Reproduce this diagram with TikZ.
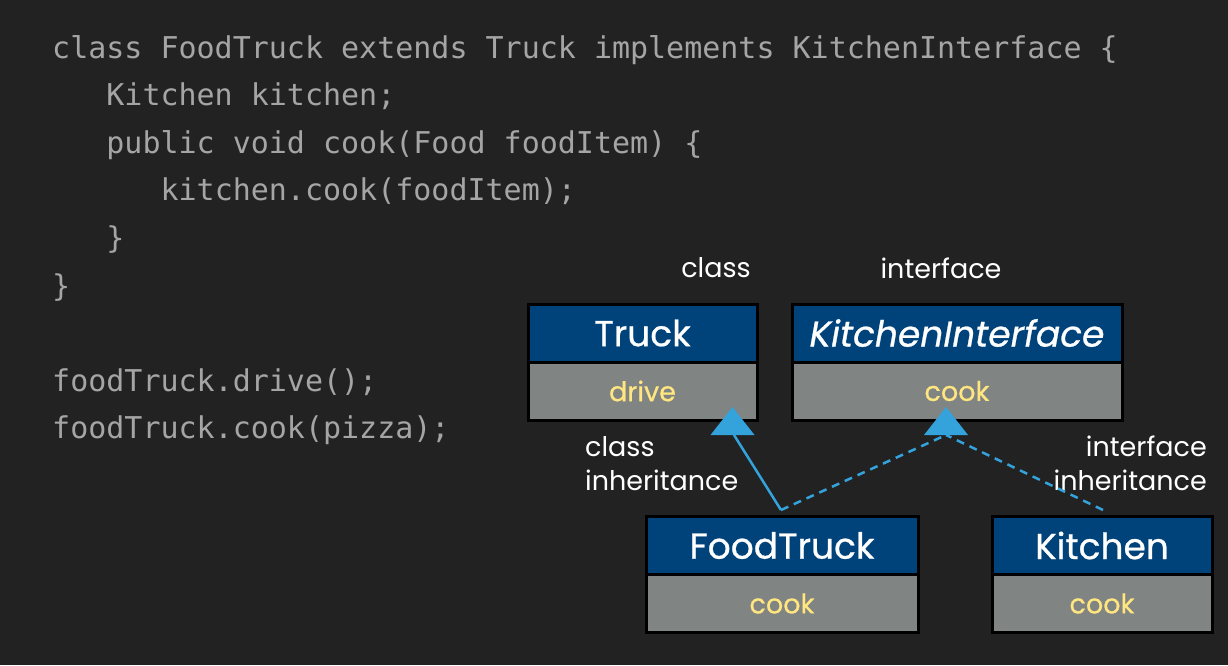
\documentclass[tikz,border=0pt]{standalone}
\usepackage{fontspec}
\setmainfont{Poppins}
\setmonofont{DejaVu Sans Mono}
\newfontfamily\boxfont{Poppins}[FakeBold=0.7]
\usetikzlibrary{positioning}
\definecolor{bgc}{RGB}{34,34,34}
\definecolor{codec}{RGB}{165,165,165}
\definecolor{hdrc}{RGB}{0,66,122}
\definecolor{bodyc}{RGB}{128,132,130}
\definecolor{yelc}{RGB}{255,230,128}
\definecolor{arrc}{RGB}{52,163,219}
\begin{document}
\begin{tikzpicture}[x=1pt,y=-1pt,
  codeline/.style={anchor=base west,inner sep=0pt,text=codec,font=\ttfamily\fontsize{30}{36}\selectfont},
  hdr/.style={draw=black,line width=3pt,fill=hdrc,text=white,inner sep=0pt,minimum height=58pt,font=\boxfont\fontsize{36}{44}\selectfont},
  bdy/.style={draw=black,line width=3pt,fill=bodyc,text=yelc,inner sep=0pt,minimum height=58pt,font=\boxfont\fontsize{27}{32}\selectfont},
  lbl/.style={text=white,inner sep=0pt,font=\fontsize{27}{34}\selectfont},
  solidlink/.style={draw=arrc,line width=2.5pt},
  dashlink/.style={draw=arrc,line width=2.5pt,dash pattern=on 8pt off 6pt},
  tri/.style={fill=arrc}
]
\fill[bgc] (0,0) rectangle (1228,665);
\useasboundingbox (0,0) rectangle (1228,665);

% code
\node[codeline] (c1) at (52,58) {class FoodTruck extends Truck implements KitchenInterface \{};
\node[codeline] (c2) at (52,105.6) {\ \ \ Kitchen kitchen;};
\node[codeline] (c3) at (52,153.2) {\ \ \ public void cook(Food foodItem) \{};
\node[codeline] (c4) at (52,200.8) {\ \ \ \ \ \ kitchen.cook(foodItem);};
\node[codeline] (c5) at (52,248.4) {\ \ \ \}};
\node[codeline] (c6) at (52,296) {\}};
\node[codeline] (c7) at (52,391.2) {foodTruck.drive();};
\node[codeline] (c8) at (52,438.8) {foodTruck.cook(pizza);};

% labels
\node[lbl] (lclass) at (716,268) {class};
\node[lbl] (liface) at (941,268) {interface};
\node[lbl,anchor=west,align=left] (lci) at (585,463.5) {class\\inheritance};
\node[lbl,anchor=east,align=right] (lii) at (1207,463.5) {interface\\inheritance};

% boxes
\node[hdr,minimum width=229pt] (truckH) at (642.5,333) {Truck};
\node[bdy,minimum width=229pt] (truckB) at (642.5,391) {drive};
\node[hdr,minimum width=330pt] (kiH) at (957,333) {\itshape KitchenInterface};
\node[bdy,minimum width=330pt] (kiB) at (957,391) {cook};
\node[hdr,minimum width=272pt] (ftH) at (782,545.5) {FoodTruck};
\node[bdy,minimum width=272pt] (ftB) at (782,603.5) {cook};
\node[hdr,minimum width=220pt] (kH) at (1102,545.5) {Kitchen};
\node[bdy,minimum width=220pt] (kB) at (1102,603.5) {cook};

% connector points
\coordinate (ftTop) at (781,510);
\coordinate (kTop) at (1103,510);
\coordinate (tA) at (732.5,407);
\coordinate (bA) at (734,435);
\coordinate (tI) at (946,407);
\coordinate (bI) at (946,435);

\draw[solidlink] (ftTop) -- (bA);
\draw[dashlink] (ftTop) -- (bI);
\draw[dashlink] (kTop) -- (bI);
\fill[tri] (tA) -- ++(-22,28) -- ++(44,0) -- cycle;
\fill[tri] (tI) -- ++(-22,28) -- ++(44,0) -- cycle;
\end{tikzpicture}
\end{document}
